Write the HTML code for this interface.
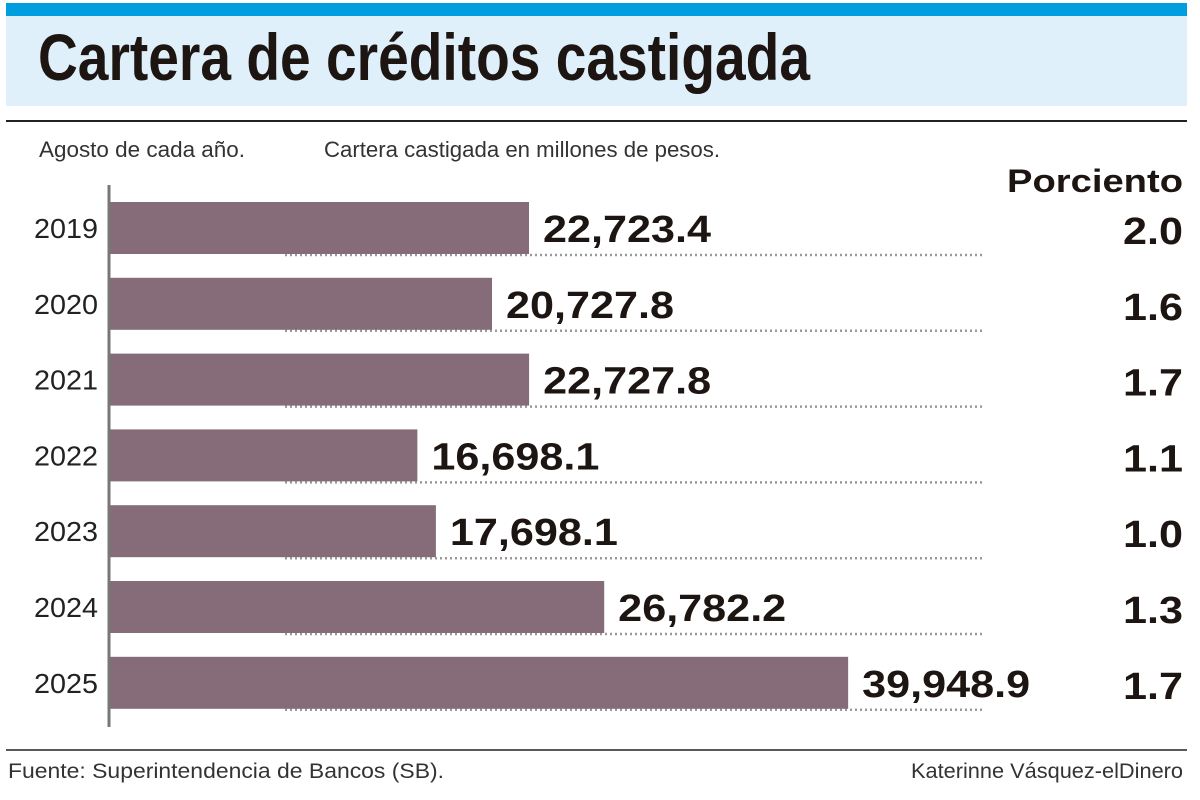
<!DOCTYPE html>
<html><head><meta charset="utf-8"><style>
html,body{margin:0;padding:0;background:#fff;width:1200px;height:800px;overflow:hidden}
svg text{font-family:"Liberation Sans",sans-serif}
</style></head><body>
<svg id="chart" width="1200" height="800" xmlns="http://www.w3.org/2000/svg">
<rect x="6" y="3" width="1181" height="13" fill="#009ede"/>
<rect x="6" y="16" width="1181" height="90" fill="#e0f0fa"/>
<text x="38" y="80" font-size="66" font-weight="bold" fill="#1d1512" textLength="772" lengthAdjust="spacingAndGlyphs">Cartera de créditos castigada</text>
<line x1="6" y1="121" x2="1187" y2="121" stroke="#222" stroke-width="2"/>
<text x="39" y="157" font-size="22" fill="#333" textLength="206" lengthAdjust="spacingAndGlyphs">Agosto de cada año.</text>
<text x="324" y="157" font-size="22" fill="#333" textLength="396" lengthAdjust="spacingAndGlyphs">Cartera castigada en millones de pesos.</text>
<text x="1183" y="192" font-size="32" font-weight="bold" fill="#1d1512" text-anchor="end" textLength="176" lengthAdjust="spacingAndGlyphs">Porciento</text>
<g id="bars"></g>
<line x1="109" y1="185" x2="109" y2="727" stroke="#777" stroke-width="3"/>
<line x1="6" y1="750" x2="1187" y2="750" stroke="#222" stroke-width="1.5"/>
<text x="8" y="778" font-size="21" fill="#333" textLength="436" lengthAdjust="spacingAndGlyphs">Fuente: Superintendencia de Bancos (SB).</text>
<text x="1183" y="778" font-size="21" fill="#333" text-anchor="end" textLength="272" lengthAdjust="spacingAndGlyphs">Katerinne Vásquez-elDinero</text>
</svg>
<script>
const years=["2019","2020","2021","2022","2023","2024","2025"];
const values=[22723.4,20727.8,22727.8,16698.1,17698.1,26782.2,39948.9];
const valueLabels=["22,723.4","20,727.8","22,727.8","16,698.1","17,698.1","26,782.2","39,948.9"];
const percents=["2.0","1.6","1.7","1.1","1.0","1.3","1.7"];
const NS="http://www.w3.org/2000/svg";
const x0=108, scale=421/22723.4;
const xPos=v=>x0+v*scale;
const yPos=i=>202+i*75.8;
const g=document.getElementById('bars');
function mk(tag,attrs){const e=document.createElementNS(NS,tag);for(const k in attrs)e.setAttribute(k,attrs[k]);g.appendChild(e);return e;}
years.forEach((yr,i)=>{
  const y=yPos(i), xe=xPos(values[i]);
  const dl=mk('line',{x1:285,y1:y+53,x2:985,y2:y+53,stroke:'#999','stroke-width':2.5,'stroke-dasharray':'2 3'});
  
  
  const r=mk('rect',{x:x0,y:y,width:xe-x0,height:52,fill:'#866b79'});
  
  
  const yl=mk('text',{x:98,y:y+36,'font-size':28,fill:'#222','text-anchor':'end',textLength:64,lengthAdjust:'spacingAndGlyphs'});
  yl.textContent=yr;
  
  
  const vl=mk('text',{x:xe+14,y:y+40,'font-size':38,'font-weight':'bold',fill:'#1d1512',textLength:168,lengthAdjust:'spacingAndGlyphs'});
  vl.textContent=valueLabels[i];
  
  
  const pl=mk('text',{x:1183,y:y+42,'font-size':38,'font-weight':'bold',fill:'#1d1512','text-anchor':'end',textLength:60,lengthAdjust:'spacingAndGlyphs'});
  pl.textContent=percents[i];
  
  
});
</script>
</body></html>
